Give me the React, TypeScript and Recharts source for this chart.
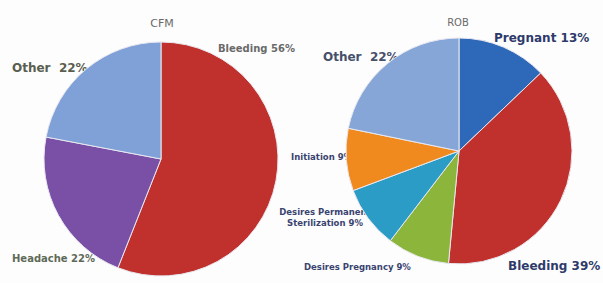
import { PieChart, Pie, Cell } from "recharts";

// CFM chart
const cfmNames = ["Bleeding", "Headache", "Other"];
const cfmValues = [56, 22, 22];
const cfmColors = ["#c0302c", "#7a4fa6", "#7fa1d7"];

// ROB chart
const robNames = [
  "Pregnant",
  "Bleeding",
  "Desires Pregnancy",
  "Desires Permanent Sterilization",
  "Initiation",
  "Other",
];
const robValues = [13, 39, 9, 9, 9, 22];
const robColors = ["#2e68b9", "#c0302c", "#8bb53b", "#2b9cc5", "#f08a1f", "#87a6d8"];

const cfmData = cfmNames.map((name, i) => ({ name, value: cfmValues[i] }));
const robData = robNames.map((name, i) => ({ name, value: robValues[i] }));

const font = "'DejaVu Sans', Verdana, sans-serif";

export default function App() {
  return (
    <div style={{ position: "absolute", left: 0, top: 0, width: 603, height: 283, background: "#fdfdfd" }}>
      <PieChart width={603} height={283} margin={{ top: 0, right: 0, bottom: 0, left: 0 }}>
        <Pie
          data={cfmData}
          dataKey="value"
          cx={161}
          cy={159}
          outerRadius={117}
          startAngle={90}
          endAngle={-270}
          stroke="#e8e8f0"
          strokeWidth={1}
          isAnimationActive={false}
        >
          {cfmData.map((_, i) => (
            <Cell key={`cfm-${i}`} fill={cfmColors[i]} />
          ))}
        </Pie>
        <Pie
          data={robData}
          dataKey="value"
          cx={459}
          cy={151}
          outerRadius={113}
          startAngle={90}
          endAngle={-270}
          stroke="#e8e8f0"
          strokeWidth={1}
          isAnimationActive={false}
        >
          {robData.map((_, i) => (
            <Cell key={`rob-${i}`} fill={robColors[i]} />
          ))}
        </Pie>

        {/* titles */}
        <text x={162} y={27} textAnchor="middle" fontFamily={font} fontSize={11} fill="#6a6a6a">CFM</text>
        <text x={458} y={26} textAnchor="middle" fontFamily={font} fontSize={10} fill="#6a6a6a">ROB</text>

        {/* CFM labels */}
        <text x={12} y={72} xmlSpace="preserve" fontFamily={font} fontSize={12} fontWeight="bold" fill="#5a5e50">Other  22%</text>
        <text x={218} y={52} fontFamily={font} fontSize={10} fontWeight="bold" fill="#6a6a6a">Bleeding 56%</text>
        <text x={12} y={262} fontFamily={font} fontSize={10} fontWeight="bold" fill="#5f6a58">Headache 22%</text>

        {/* ROB labels */}
        <text x={323} y={61} xmlSpace="preserve" fontFamily={font} fontSize={12} fontWeight="bold" fill="#46506a">Other  22%</text>
        <text x={494} y={42} fontFamily={font} fontSize={12} fontWeight="bold" fill="#2d3a6a">Pregnant 13%</text>
        <text x={508} y={270} fontFamily={font} fontSize={12} fontWeight="bold" fill="#2d3a6a">Bleeding 39%</text>
        <text x={291} y={160} fontFamily={font} fontSize={8.5} fontWeight="bold" fill="#3a4370">Initiation 9%</text>
        <text x={325} y={215} textAnchor="middle" fontFamily={font} fontSize={8.5} fontWeight="bold" fill="#3a4370">Desires Permanent</text>
        <text x={325} y={226} textAnchor="middle" fontFamily={font} fontSize={8.5} fontWeight="bold" fill="#3a4370">Sterilization 9%</text>
        <text x={304} y={270} fontFamily={font} fontSize={8.5} fontWeight="bold" fill="#3a4370">Desires Pregnancy 9%</text>
      </PieChart>
    </div>
  );
}
